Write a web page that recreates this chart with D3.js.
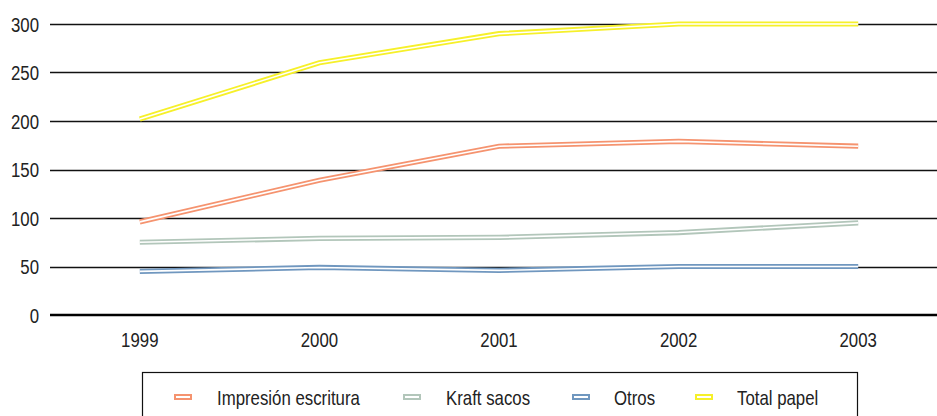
<!DOCTYPE html>
<html>
<head>
<meta charset="utf-8">
<script src="https://cdn.jsdelivr.net/npm/d3@7"></script>
<style>
  body { margin: 0; background: #fff; }
  svg text { font-family: "Liberation Sans", Arial, sans-serif; fill: #222; }
</style>
</head>
<body>
<script>
'use strict';
(function() {

  // chart data
  let years = ["1999", "2000", "2001", "2002", "2003"];
  let seriesNames = ["Impresión escritura", "Kraft sacos", "Otros", "Total papel"];
  let impresion = [96, 139, 174, 179, 174];
  let kraft = [75, 79, 80, 85, 95];
  let otros = [45, 49, 46, 50, 50];
  let totalPapel = [202, 260, 290, 300, 300];
  let yTicks = [0, 50, 100, 150, 200, 250, 300];

  let colors = ["#f5936f", "#b2c6ba", "#7097bf", "#f6f02a"];
  let allSeries = [impresion, kraft, otros, totalPapel];

  let width = 937, height = 416;
  // no narrow font installed, so squeeze Liberation Sans horizontally
  let narrow = 'scale(0.82,1)';
  let fontSize = '20.5px';

  let svg = d3.select('body')
    .append('svg')
    .attr('width', width)
    .attr('height', height);

  // scales
  let xScale = d3.scaleBand()
    .domain(years)
    .range([50, 948])
    .padding(0);
  let xCenter = function(y) { return xScale(y) + xScale.bandwidth() / 2; };

  let yScale = d3.scaleLinear()
    .domain([0, 300])
    .range([315, 24]);

  // gridlines
  svg.append('g')
    .selectAll('line')
    .data(yTicks.filter((t) => t > 0))
    .enter()
    .append('line')
      .attr('x1', 50)
      .attr('x2', width)
      .attr('y1', (d) => Math.round(yScale(d)) + 0.5)
      .attr('y2', (d) => Math.round(yScale(d)) + 0.5)
      .attr('stroke', '#111')
      .attr('stroke-width', 1.3);

  // y axis labels
  let yAxis = d3.axisLeft(yScale).tickValues(yTicks).tickSize(0).tickPadding(0);
  let gy = svg.append('g')
    .attr('transform', 'translate(39, 0)')
    .call(yAxis);
  gy.select('.domain').remove();
  gy.selectAll('text')
    .attr('x', 0)
    .attr('dy', '0.36em')
    .attr('transform', narrow)
    .attr('fill', '#222')
    .style('font-size', fontSize);

  // x axis
  let xAxis = d3.axisBottom(xScale).tickSize(0).tickPadding(0);
  let gx = svg.append('g')
    .attr('transform', 'translate(0, 347)')
    .call(xAxis);
  gx.select('.domain').remove();
  gx.selectAll('text')
    .attr('y', 0)
    .attr('dy', '0')
    .attr('transform', narrow)
    .attr('fill', '#222')
    .style('font-size', fontSize);

  // baseline
  svg.append('line')
    .attr('x1', 50)
    .attr('x2', width)
    .attr('y1', yScale(0))
    .attr('y2', yScale(0))
    .attr('stroke', '#000')
    .attr('stroke-width', 2.5);

  // double lines: coloured stroke with a white core
  let line = d3.line()
    .x((d, i) => xCenter(years[i]))
    .y((d) => yScale(d));

  allSeries.forEach(function(values, i) {
    svg.append('path')
      .datum(values)
      .attr('fill', 'none')
      .attr('stroke', colors[i])
      .attr('stroke-width', 5.2)
      .attr('stroke-linejoin', 'miter')
      .attr('d', line);
    svg.append('path')
      .datum(values)
      .attr('fill', 'none')
      .attr('stroke', '#fff')
      .attr('stroke-width', 1.6)
      .attr('stroke-linejoin', 'miter')
      .attr('d', line);
  });

  // legend
  let legend = svg.append('g');
  legend.append('rect')
    .attr('x', 142.5)
    .attr('y', 372.5)
    .attr('width', 715)
    .attr('height', 60)
    .attr('fill', 'none')
    .attr('stroke', '#111')
    .attr('stroke-width', 1.2);

  let swatchX = [175, 404, 573, 696];
  let labelX = [217, 446, 614, 737];

  seriesNames.forEach(function(name, i) {
    legend.append('rect')
      .attr('x', swatchX[i])
      .attr('y', 395)
      .attr('width', 16)
      .attr('height', 4)
      .attr('fill', '#fff')
      .attr('stroke', colors[i])
      .attr('stroke-width', 2);
    legend.append('g')
      .attr('transform', 'translate(' + labelX[i] + ',405)')
      .append('text')
        .attr('transform', narrow)
        .style('font-size', fontSize)
        .text(name);
  });

})();
</script>
</body>
</html>
